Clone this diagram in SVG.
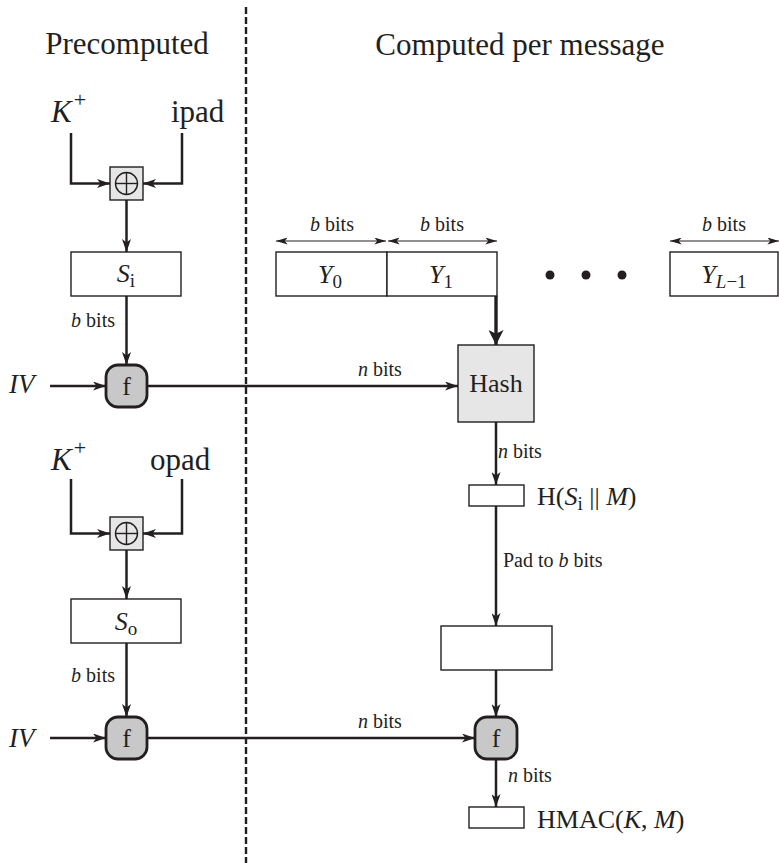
<svg xmlns="http://www.w3.org/2000/svg" width="779" height="863" viewBox="0 0 779 863">
<defs>
<style>
text{font-family:"Liberation Serif","Times New Roman",serif;fill:#231f20}
.h{font-size:31px}
.lbl{font-size:20px}
.nd{font-size:26px}
.it{font-style:italic}
.conn{stroke:#231f20;stroke-width:2.5;fill:none}
.dim{stroke:#231f20;stroke-width:1.2;fill:none}
.box{fill:#fff;stroke:#231f20;stroke-width:1.4}
.xor{fill:#e6e6e6;stroke:#231f20;stroke-width:1.4}
.fn{fill:#c8c8c8;stroke:#231f20;stroke-width:2.8}
.hash{fill:#e6e6e6;stroke:#231f20;stroke-width:1.4}
</style>
<marker id="ah" viewBox="0 0 13 9" refX="13" refY="4.5" markerWidth="13" markerHeight="9" markerUnits="userSpaceOnUse" orient="auto">
<path d="M0,0 L13,4.5 L0,9 L3.5,4.5 z" fill="#231f20"/>
</marker>
<marker id="ahb" viewBox="0 0 12 12" refX="12" refY="6" markerWidth="17" markerHeight="15" markerUnits="userSpaceOnUse" orient="auto">
<path d="M0,0 L12,6 L0,12 L3,6 z" fill="#231f20"/>
</marker>
<marker id="ahs" viewBox="0 0 10 6" refX="10" refY="3" markerWidth="12" markerHeight="7" markerUnits="userSpaceOnUse" orient="auto-start-reverse">
<path d="M0,0 L10,3 L0,6 L2.5,3 z" fill="#231f20"/>
</marker>
</defs>

<!-- headings and divider -->
<g id="headings">
<text class="h" x="127" y="54" text-anchor="middle">Precomputed</text>
<text class="h" x="520" y="55" text-anchor="middle">Computed per message</text>
<line x1="246" y1="7" x2="246" y2="863" stroke="#231f20" stroke-width="2.4" stroke-dasharray="7 3"/>
</g>

<g id="connectors">
<polyline class="conn" points="71,133 71,183.5 110,183.5" marker-end="url(#ah)"/>
<polyline class="conn" points="182,133 182,183.5 143,183.5" marker-end="url(#ah)"/>
<line class="conn" x1="126.5" y1="200" x2="126.5" y2="252" marker-end="url(#ah)"/>
<line class="conn" x1="126.5" y1="296" x2="126.5" y2="365" marker-end="url(#ah)"/>
<line class="conn" x1="50" y1="386" x2="106" y2="386" marker-end="url(#ah)"/>
<line class="conn" x1="147" y1="386" x2="458" y2="386" marker-end="url(#ah)"/>
<line x1="496" y1="296" x2="496" y2="345" stroke="#231f20" stroke-width="3.4" marker-end="url(#ahb)"/>
<line class="conn" x1="496" y1="422" x2="496" y2="485" marker-end="url(#ah)"/>
<line class="conn" x1="496" y1="506" x2="496" y2="626" marker-end="url(#ah)"/>
<line class="conn" x1="496" y1="670" x2="496" y2="717" marker-end="url(#ah)"/>
<polyline class="conn" points="71,479 71,533.5 110,533.5" marker-end="url(#ah)"/>
<polyline class="conn" points="182,479 182,533.5 143,533.5" marker-end="url(#ah)"/>
<line class="conn" x1="126.5" y1="550" x2="126.5" y2="599" marker-end="url(#ah)"/>
<line class="conn" x1="126.5" y1="643" x2="126.5" y2="717" marker-end="url(#ah)"/>
<line class="conn" x1="50" y1="738" x2="106" y2="738" marker-end="url(#ah)"/>
<line class="conn" x1="147" y1="738" x2="475" y2="738" marker-end="url(#ah)"/>
<line class="conn" x1="496" y1="759" x2="496" y2="807" marker-end="url(#ah)"/>
<line class="dim" x1="276" y1="241" x2="386" y2="241" marker-start="url(#ahs)" marker-end="url(#ahs)"/>
<line class="dim" x1="388" y1="241" x2="497" y2="241" marker-start="url(#ahs)" marker-end="url(#ahs)"/>
<line class="dim" x1="670" y1="241" x2="779" y2="241" marker-start="url(#ahs)" marker-end="url(#ahs)"/>
</g>

<g id="labels">
<text x="51" y="122" class="h it">K<tspan dx="2" dy="-15" font-size="22" font-style="normal">+</tspan></text>
<text x="171" y="122" class="h">ipad</text>
<text x="51" y="470" class="h it">K<tspan dx="2" dy="-15" font-size="22" font-style="normal">+</tspan></text>
<text x="150" y="470" class="h">opad</text>
<text x="115" y="327" class="lbl" text-anchor="end"><tspan class="it">b</tspan> bits</text>
<text x="115" y="682" class="lbl" text-anchor="end"><tspan class="it">b</tspan> bits</text>
<text x="9" y="393" font-size="27" class="it">IV</text>
<text x="9" y="747" font-size="27" class="it">IV</text>
<text x="358" y="376" class="lbl"><tspan class="it">n</tspan> bits</text>
<text x="358" y="728" class="lbl"><tspan class="it">n</tspan> bits</text>
<text x="498" y="458" class="lbl"><tspan class="it">n</tspan> bits</text>
<text x="508" y="782" class="lbl"><tspan class="it">n</tspan> bits</text>
<text x="503" y="567" class="lbl">Pad to <tspan class="it">b</tspan> bits</text>
<text x="332" y="231" class="lbl" text-anchor="middle"><tspan class="it">b</tspan> bits</text>
<text x="442" y="231" class="lbl" text-anchor="middle"><tspan class="it">b</tspan> bits</text>
<text x="724" y="231" class="lbl" text-anchor="middle"><tspan class="it">b</tspan> bits</text>
</g>

<g id="xor-inner">
<rect class="xor" x="110" y="167" width="33" height="33"/>
<circle cx="126.5" cy="183.5" r="11" fill="none" stroke="#231f20" stroke-width="1.4"/>
<line x1="115.5" y1="183.5" x2="137.5" y2="183.5" stroke="#231f20" stroke-width="1.4"/>
<line x1="126.5" y1="172.5" x2="126.5" y2="194.5" stroke="#231f20" stroke-width="1.4"/>
</g>
<g id="si">
<rect class="box" x="71" y="252" width="110" height="44"/>
<text class="nd" x="126" y="282" text-anchor="middle"><tspan class="it">S</tspan><tspan font-size="19" dy="5">i</tspan></text>
</g>
<g id="f-inner">
<rect class="fn" x="106" y="365" width="41" height="42" rx="12"/>
<text class="nd" x="126.5" y="395" text-anchor="middle">f</text>
</g>

<g id="xor-outer">
<rect class="xor" x="110" y="517" width="33" height="33"/>
<circle cx="126.5" cy="533.5" r="11" fill="none" stroke="#231f20" stroke-width="1.4"/>
<line x1="115.5" y1="533.5" x2="137.5" y2="533.5" stroke="#231f20" stroke-width="1.4"/>
<line x1="126.5" y1="522.5" x2="126.5" y2="544.5" stroke="#231f20" stroke-width="1.4"/>
</g>
<g id="so">
<rect class="box" x="71" y="599" width="110" height="44"/>
<text class="nd" x="126" y="630" text-anchor="middle"><tspan class="it">S</tspan><tspan font-size="19" dy="5">o</tspan></text>
</g>
<g id="f-outer">
<rect class="fn" x="106" y="717" width="41" height="42" rx="12"/>
<text class="nd" x="126.5" y="747" text-anchor="middle">f</text>
</g>

<g id="y0">
<rect class="box" x="276" y="252" width="111" height="44"/>
<text class="nd" x="330" y="283" text-anchor="middle"><tspan class="it">Y</tspan><tspan font-size="19" dy="5">0</tspan></text>
</g>
<g id="y1">
<rect class="box" x="387" y="252" width="110" height="44"/>
<text class="nd" x="441" y="283" text-anchor="middle"><tspan class="it">Y</tspan><tspan font-size="19" dy="5">1</tspan></text>
</g>
<g id="dots">
<circle cx="550" cy="275" r="4.5" fill="#231f20"/>
<circle cx="586" cy="275" r="4.5" fill="#231f20"/>
<circle cx="622" cy="275" r="4.5" fill="#231f20"/>
</g>
<g id="yL">
<rect class="box" x="670" y="252" width="108" height="44"/>
<text class="nd" x="724" y="283" text-anchor="middle"><tspan class="it">Y</tspan><tspan font-size="19" dy="5"><tspan class="it">L</tspan>−1</tspan></text>
</g>

<g id="hash">
<rect class="hash" x="458" y="345" width="76" height="77"/>
<text class="nd" x="496" y="392" text-anchor="middle">Hash</text>
</g>
<g id="h-out">
<rect class="box" x="469" y="485" width="55" height="21"/>
<text class="nd" x="537" y="505">H(<tspan class="it">S</tspan><tspan font-size="19" dy="5">i</tspan><tspan dy="-5"> || </tspan><tspan class="it">M</tspan>)</text>
</g>
<g id="pad">
<rect class="box" x="441" y="626" width="111" height="44"/>
</g>
<g id="f-final">
<rect class="fn" x="475" y="717" width="42" height="42" rx="12"/>
<text class="nd" x="496" y="747" text-anchor="middle">f</text>
</g>
<g id="hmac">
<rect class="box" x="469" y="807" width="55" height="21"/>
<text class="nd" x="537" y="828">HMAC(<tspan class="it">K</tspan>, <tspan class="it">M</tspan>)</text>
</g>
</svg>
